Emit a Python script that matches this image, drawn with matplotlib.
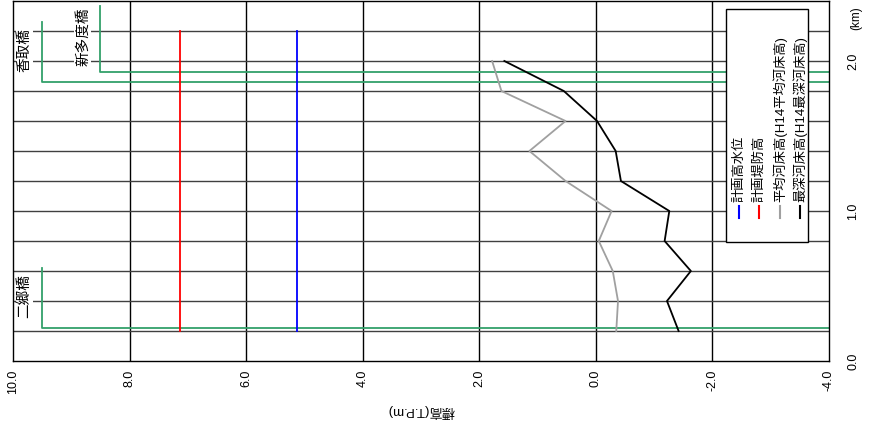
import matplotlib.pyplot as plt
from matplotlib.patches import Rectangle

plt.rcParams['font.family'] = ['Liberation Sans', 'Noto Sans CJK JP']

# distance (km) and bed elevations (T.P.m)
km = [0.2, 0.4, 0.6, 0.8, 1.0, 1.2, 1.4, 1.6, 1.8, 2.0]
deepest_bed = [-1.42, -1.22, -1.63, -1.18, -1.26, -0.43, -0.34, -0.02, 0.55, 1.57]
mean_bed = [-0.35, -0.38, -0.29, -0.05, -0.27, 0.52, 1.14, 0.52, 1.62, 1.78]

plan_range = [0.2, 2.2]
plan_hwl = 5.13
plan_levee = 7.14

# bridges: name, km, elevation of marker, top km of marker
bridge_names = ['香取橋', '新多度橋', '二郷橋']
bridge_km = [1.86, 1.93, 0.22]
bridge_elev = [9.5, 8.5, 9.5]
bridge_top = [2.26, 2.37, 0.62]

legend_labels = ['計画高水位', '計画堤防高', '平均河床高(H14平均河床高)', '最深河床高(H14最深河床高)']
legend_colors = ['#0000ff', '#ff0000', '#a0a0a0', '#000000']

fig = plt.figure(figsize=(8.69, 4.32), dpi=100)
ax = fig.add_axes([13 / 869, 71 / 432, 816 / 869, 360 / 432])
ax.set_xlim(10, -4)
ax.set_ylim(0, 2.4)

for x in [8, 6, 4, 2, 0, -2]:
    ax.axvline(x, color='black', lw=1, zorder=1)
for i in range(1, 12):
    ax.axhline(i * 0.2, color='#404040', lw=1, zorder=1)

for name, k, e, top in zip(bridge_names, bridge_km, bridge_elev, bridge_top):
    ax.plot([e, e, -4], [top, k, k], color='#33a06a', lw=1.3, zorder=2)
    ax.text(e + 0.3, (k + top) / 2 + 0.01, name, rotation=90, fontsize=10.5,
            ha='center', va='center', zorder=3,
            bbox=dict(facecolor='white', edgecolor='none', pad=1))

ax.plot([plan_hwl, plan_hwl], plan_range, color='#0000ff', lw=1.3, zorder=3)
ax.plot([plan_levee, plan_levee], plan_range, color='#ff0000', lw=1.3, zorder=3)
ax.plot(mean_bed, km, color='#a0a0a0', lw=1.3, zorder=4)
ax.plot(deepest_bed, km, color='black', lw=1.3, zorder=4)

# legend drawn by hand, rotated
ax.add_patch(Rectangle((0.874, 0.331), 0.1, 0.647, transform=ax.transAxes,
                       facecolor='white', edgecolor='black', lw=1, zorder=5))
for xc, lab, col in zip([0.890, 0.914, 0.940, 0.964], legend_labels, legend_colors):
    ax.plot([xc, xc], [0.397, 0.431], transform=ax.transAxes, color=col, lw=1.5, zorder=6)
    ax.text(xc, 0.443, lab, transform=ax.transAxes, rotation=90, fontsize=9.5,
            ha='center', va='bottom', zorder=6)

ax.set_xticks([10, 8, 6, 4, 2, 0, -2, -4])
ax.set_xticklabels(['10.0', '8.0', '6.0', '4.0', '2.0', '0.0', '-2.0', '-4.0'],
                   rotation=90, fontsize=9)
ax.yaxis.tick_right()
ax.set_yticks([0, 1, 2])
ax.set_yticklabels(['0.0', '1.0', '2.0'], rotation=90, fontsize=9, va='center')
ax.tick_params(axis='both', length=0)
ax.tick_params(axis='x', pad=6)
ax.tick_params(axis='y', pad=13)
for s in ax.spines.values():
    s.set_color('black')
    s.set_linewidth(1)

fig.text(856 / 869, 1 - 18 / 432, '(km)', rotation=90, fontsize=8.5, ha='center', va='center')
fig.text(421 / 869, 1 - 411 / 432, '標高(T.P.m)', rotation=180, fontsize=9.5,
         ha='center', va='center')

fig.savefig('out.png', dpi=100)
